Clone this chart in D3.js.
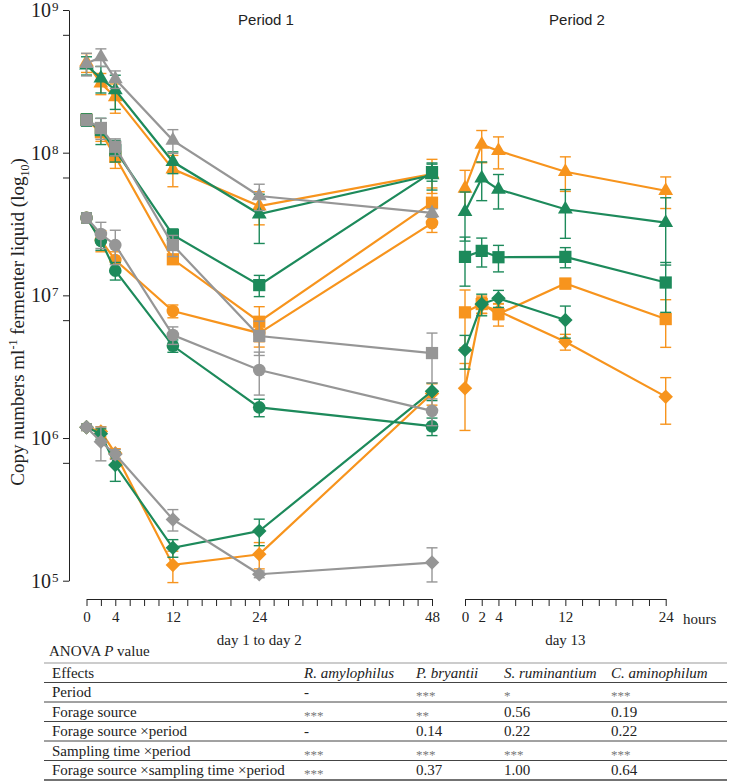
<!DOCTYPE html>
<html lang="en">
<head>
<meta charset="utf-8">
<title>Copy numbers over time</title>
<script src="https://d3js.org/d3.v7.min.js"></script>
<style>
    body { margin: 0; background: #fff; }
    .serif { font-family: "Liberation Serif", "Times New Roman", serif; }
    .axis text { font-family: "Liberation Serif", "Times New Roman", serif; font-size: 15px; fill: #222; }
    .axis path, .axis line { stroke: #222; }
</style>
</head>
<body>
<div id="chart"></div>
<script>
    var w = 730;
    var h = 783;

    // sampling times (hours)
    var hoursP1 = [0, 2, 4, 12, 24, 48];
    var hoursP2 = [0, 2, 4, 12, 24];
    var labelsP1 = [0, 4, 12, 24, 48];
    var labelsP2 = [0, 2, 4, 12, 24];
    var yMajor = [1e5, 1e6, 1e7, 1e8, 1e9];
    var yMinor = [6.7e5, 6.7e6, 6.7e7, 6.7e8];

    // period 1 (day 1 to day 2): mean copy numbers and SE
    var triOrangeP1 = [4.3e8, 3.07e8, 2.46e8, 7.67e7, 4.22e7, 7.08e7];
    var triOrangeP1Se = [0.65e8, 0.52e8, 0.57e8, 1.9e7, 1.1e7, 1.9e7];
    var triGreenP1 = [4.1e8, 3.32e8, 2.75e8, 8.63e7, 3.71e7, 6.97e7];
    var triGreenP1Se = [0.6e8, 0.7e8, 0.74e8, 1.5e7, 1.4e7, 1.5e7];
    var triGrayP1 = [4.21e8, 4.68e8, 3.28e8, 1.22e8, 4.97e7, 3.78e7];
    var triGrayP1Se = [0.76e8, 0.66e8, 0.46e8, 2.3e7, 1.04e7, 0.26e7];

    var sqOrangeP1 = [1.7e8, 1.39e8, 9.36e7, 1.79e7, 6.53e6, 4.46e7];
    var sqOrangeP1Se = [1.7e7, 1.9e7, 1.6e7, 1.4e6, 1.8e6, 1.2e7];
    var sqGreenP1 = [1.7e8, 1.44e8, 1.04e8, 2.65e7, 1.18e7, 7.31e7];
    var sqGreenP1Se = [1.7e7, 3.0e7, 1.8e7, 2.7e6, 2.0e6, 1.0e7];
    var sqGrayP1 = [1.69e8, 1.49e8, 1.10e8, 2.25e7, 5.19e6, 3.94e6];
    var sqGrayP1Se = [1.2e7, 2.5e7, 1.5e7, 3.8e6, 1.4e6, 1.5e6];

    var circOrangeP1 = [3.5e7, 2.43e7, 1.77e7, 7.76e6, 5.44e6, 3.21e7];
    var circOrangeP1Se = [2.8e6, 4.1e6, 2.5e6, 0.8e6, 1.1e6, 4.5e6];
    var circGreenP1 = [3.5e7, 2.41e7, 1.49e7, 4.43e6, 1.64e6, 1.21e6];
    var circGreenP1Se = [2.8e6, 3.4e6, 2.1e6, 0.44e6, 0.23e6, 0.17e6];
    var circGrayP1 = [3.5e7, 2.69e7, 2.25e7, 5.27e6, 3.0e6, 1.55e6];
    var circGrayP1Se = [2.8e6, 5.6e6, 6.1e6, 0.74e6, 1.0e6, 0.33e6];

    var diaOrangeP1 = [1.19e6, 1.11e6, 7.81e5, 1.29e5, 1.53e5, 2.05e6];
    var diaOrangeP1Se = [0.6e5, 0.9e5, 0.6e5, 0.32e5, 0.32e5, 3.5e5];
    var diaGreenP1 = [1.19e6, 1.07e6, 6.47e5, 1.70e5, 2.23e5, 2.13e6];
    var diaGreenP1Se = [0.6e5, 0.9e5, 1.5e5, 0.24e5, 0.47e5, 3.0e5];
    var diaGrayP1 = [1.19e6, 9.42e5, 7.69e5, 2.69e5, 1.11e5, 1.34e5];
    var diaGrayP1Se = [0.6e5, 2.5e5, 0.6e5, 0.46e5, 0.06e5, 0.36e5];

    // period 2 (day 13)
    var triOrangeP2 = [5.62e7, 1.14e8, 1.03e8, 7.35e7, 5.41e7];
    var triOrangeP2Se = [1.9e7, 2.9e7, 2.6e7, 2.0e7, 1.35e7];
    var triGreenP2 = [3.85e7, 6.61e7, 5.53e7, 4.01e7, 3.23e7];
    var triGreenP2Se = [1.45e7, 2.0e7, 1.5e7, 1.5e7, 1.6e7];
    var sqOrangeP2 = [7.6e6, 8.69e6, 7.39e6, 1.21e7, 6.82e6];
    var sqOrangeP2Se = [3.3e6, 1.2e6, 1.3e6, 1.0e6, 2.5e6];
    var sqGreenP2 = [1.86e7, 2.05e7, 1.85e7, 1.86e7, 1.23e7];
    var sqGreenP2Se = [0.7e7, 0.47e7, 0.39e7, 0.3e7, 0.47e7];
    var diaOrangeP2 = [2.23e6, 8.55e6, 7.76e6, 4.73e6, 1.95e6];
    var diaOrangeP2Se = [1.1e6, 1.1e6, 1.0e6, 0.6e6, 0.7e6];
    var diaGreenP2 = [4.14e6, 8.69e6, 9.53e6, 6.71e6];
    var diaGreenP2Se = [1.1e6, 1.5e6, 1.3e6, 1.7e6];

    // ANOVA table
    var species = ["R. amylophilus", "P. bryantii", "S. ruminantium", "C. aminophilum"];
    var effects = ["Period", "Forage source", "Forage source \u00d7period", "Sampling time \u00d7period",
        "Forage source \u00d7sampling time \u00d7period"];
    var pAmylophilus = ["-", "***", "-", "***", "***"];
    var pBryantii = ["***", "**", "0.14", "***", "0.37"];
    var pRuminantium = ["*", "0.56", "0.22", "***", "1.00"];
    var pAminophilum = ["***", "0.19", "0.22", "***", "0.64"];

    var colors = { orange: "#f7941d", green: "#1d8a5b", gray: "#969696" };

    var svg = d3.select("#chart")
        .append("svg")
        .attr("width", w)
        .attr("height", h);

    var yScale = d3.scaleLog().domain([1e5, 1e9]).range([580.7, 10]);
    var x1 = d3.scaleLinear().domain([0, 48]).range([86.5, 432]);
    var x2 = d3.scaleLinear().domain([0, 24]).range([465, 665.7]);

    // y axis
    svg.append("g")
        .attr("class", "axis")
        .attr("transform", "translate(69, 0)")
        .call(d3.axisLeft(yScale).tickValues(yMajor.concat(yMinor)).tickFormat("").tickSize(6).tickSizeOuter(0));

    yMajor.forEach(function(v) {
        svg.append("text")
            .attr("class", "serif")
            .attr("x", 51)
            .attr("y", yScale(v) + 7)
            .attr("text-anchor", "end")
            .style("font-size", "20px")
            .style("fill", "#222")
            .text("10");
        svg.append("text")
            .attr("class", "serif")
            .attr("x", 52)
            .attr("y", yScale(v) + 1)
            .style("font-size", "13px")
            .style("fill", "#222")
            .text(Math.round(Math.log10(v)));
    });

    // x axes
    svg.append("g")
        .attr("class", "axis")
        .attr("transform", "translate(0, 599)")
        .call(d3.axisBottom(x1).tickValues(d3.range(0, 49, 2))
            .tickFormat(function(d) { return labelsP1.includes(d) ? d : ""; })
            .tickSize(7).tickSizeOuter(0).tickPadding(5));

    svg.append("g")
        .attr("class", "axis")
        .attr("transform", "translate(0, 599)")
        .call(d3.axisBottom(x2).tickValues(d3.range(0, 25, 2))
            .tickFormat(function(d) { return labelsP2.includes(d) ? d : ""; })
            .tickSize(7).tickSizeOuter(0).tickPadding(5));

    svg.append("text").attr("class", "serif").attr("x", 683).attr("y", 624)
        .style("font-size", "15px").style("fill", "#222").text("hours");
    svg.append("text").attr("class", "serif").attr("x", x1(24)).attr("y", 645)
        .attr("text-anchor", "middle").style("font-size", "15px").style("fill", "#222").text("day 1 to day 2");
    svg.append("text").attr("class", "serif").attr("x", x2(12)).attr("y", 645)
        .attr("text-anchor", "middle").style("font-size", "15px").style("fill", "#222").text("day 13");

    // period titles
    svg.append("text").attr("x", 266).attr("y", 25).attr("text-anchor", "middle")
        .style("font-family", "'Liberation Sans', Arial, sans-serif").style("font-size", "15px")
        .style("fill", "#222").text("Period 1");
    svg.append("text").attr("x", 577).attr("y", 25).attr("text-anchor", "middle")
        .style("font-family", "'Liberation Sans', Arial, sans-serif").style("font-size", "15px")
        .style("fill", "#222").text("Period 2");

    // y axis title
    var yTitle = svg.append("text")
        .attr("class", "serif")
        .attr("transform", "translate(24, 322) rotate(-90)")
        .attr("text-anchor", "middle")
        .style("font-size", "19px")
        .style("fill", "#222");
    yTitle.append("tspan").text("Copy numbers ml");
    yTitle.append("tspan").attr("dy", -7).style("font-size", "12px").text("-1");
    yTitle.append("tspan").attr("dy", 7).text(" fermenter liquid (log");
    yTitle.append("tspan").attr("dy", 5).style("font-size", "12px").text("10");
    yTitle.append("tspan").attr("dy", -5).text(")");

    var shapes = {
        tri: d3.symbol().type(d3.symbolTriangle).size(95),
        sq: d3.symbol().type(d3.symbolSquare).size(150),
        circ: d3.symbol().type(d3.symbolCircle).size(125),
        dia: d3.symbol().type(d3.symbolSquare).size(105)
    };

    var plot = svg.append("g");

    function drawSeries(xs, hours, vals, se, color, shape) {
        var pts = vals.map(function(v, i) { return { t: hours[i], v: v, se: se[i] }; });
        var line = d3.line().x(d => xs(d.t)).y(d => yScale(d.v));
        var g = plot.append("g");

        g.append("path")
            .datum(pts)
            .attr("fill", "none")
            .attr("stroke", color)
            .attr("stroke-width", 2.2)
            .attr("d", line);

        var bars = g.selectAll(".err")
            .data(pts)
            .enter()
            .append("g")
            .attr("stroke", color)
            .attr("stroke-width", 1.4);
        bars.append("line")
            .attr("x1", d => xs(d.t)).attr("x2", d => xs(d.t))
            .attr("y1", d => yScale(d.v + d.se)).attr("y2", d => yScale(d.v - d.se));
        bars.append("line")
            .attr("x1", d => xs(d.t) - 5.5).attr("x2", d => xs(d.t) + 5.5)
            .attr("y1", d => yScale(d.v + d.se)).attr("y2", d => yScale(d.v + d.se));
        bars.append("line")
            .attr("x1", d => xs(d.t) - 5.5).attr("x2", d => xs(d.t) + 5.5)
            .attr("y1", d => yScale(d.v - d.se)).attr("y2", d => yScale(d.v - d.se));

        g.selectAll(".mark")
            .data(pts)
            .enter()
            .append("path")
            .attr("d", shapes[shape])
            .attr("fill", color)
            .attr("transform", function(d) {
                var tr = "translate(" + xs(d.t) + "," + yScale(d.v) + ")";
                return shape === "dia" ? tr + " rotate(45)" : tr;
            });
    }

    // orange first, then green, then gray on top
    drawSeries(x1, hoursP1, triOrangeP1, triOrangeP1Se, colors.orange, "tri");
    drawSeries(x1, hoursP1, sqOrangeP1, sqOrangeP1Se, colors.orange, "sq");
    drawSeries(x1, hoursP1, circOrangeP1, circOrangeP1Se, colors.orange, "circ");
    drawSeries(x1, hoursP1, diaOrangeP1, diaOrangeP1Se, colors.orange, "dia");
    drawSeries(x2, hoursP2, triOrangeP2, triOrangeP2Se, colors.orange, "tri");
    drawSeries(x2, hoursP2, sqOrangeP2, sqOrangeP2Se, colors.orange, "sq");
    drawSeries(x2, hoursP2, diaOrangeP2, diaOrangeP2Se, colors.orange, "dia");

    drawSeries(x1, hoursP1, triGreenP1, triGreenP1Se, colors.green, "tri");
    drawSeries(x1, hoursP1, sqGreenP1, sqGreenP1Se, colors.green, "sq");
    drawSeries(x1, hoursP1, circGreenP1, circGreenP1Se, colors.green, "circ");
    drawSeries(x1, hoursP1, diaGreenP1, diaGreenP1Se, colors.green, "dia");
    drawSeries(x2, hoursP2, triGreenP2, triGreenP2Se, colors.green, "tri");
    drawSeries(x2, hoursP2, sqGreenP2, sqGreenP2Se, colors.green, "sq");
    drawSeries(x2, hoursP2.slice(0, diaGreenP2.length), diaGreenP2, diaGreenP2Se, colors.green, "dia");

    drawSeries(x1, hoursP1, triGrayP1, triGrayP1Se, colors.gray, "tri");
    drawSeries(x1, hoursP1, sqGrayP1, sqGrayP1Se, colors.gray, "sq");
    drawSeries(x1, hoursP1, circGrayP1, circGrayP1Se, colors.gray, "circ");
    drawSeries(x1, hoursP1, diaGrayP1, diaGrayP1Se, colors.gray, "dia");

    // ANOVA table
    svg.append("text").attr("class", "serif").attr("x", 49).attr("y", 656)
        .style("font-size", "15px").style("fill", "#222")
        .html("ANOVA <tspan font-style='italic'>P</tspan> value");

    var rowY = d3.scaleLinear().domain([0, 6]).range([663, 780]);
    var colX = [52, 304, 416, 504, 611];
    var pCols = [pAmylophilus, pBryantii, pRuminantium, pAminophilum];

    d3.range(7).forEach(function(i) {
        svg.append("line")
            .attr("x1", 44).attr("x2", 727)
            .attr("y1", rowY(i)).attr("y2", rowY(i))
            .attr("stroke", i === 0 ? "#999" : "#444")
            .attr("stroke-width", i === 6 ? 1.4 : 1);
    });

    function cell(x, row, txt, italic) {
        var isStar = /^\*+$/.test(txt);
        svg.append("text")
            .attr("class", "serif")
            .attr("x", x)
            .attr("y", (rowY(row) + rowY(row + 1)) / 2 + (isStar ? 8 : 5))
            .style("font-size", isStar ? "13px" : "15px")
            .style("font-style", italic ? "italic" : "normal")
            .style("fill", isStar ? "#777" : "#222")
            .text(txt);
    }

    cell(colX[0], 0, "Effects", false);
    species.forEach(function(s, j) { cell(colX[j + 1], 0, s, true); });
    effects.forEach(function(e, i) {
        cell(colX[0], i + 1, e, false);
        pCols.forEach(function(col, j) { cell(colX[j + 1], i + 1, col[i], false); });
    });
</script>
</body>
</html>
